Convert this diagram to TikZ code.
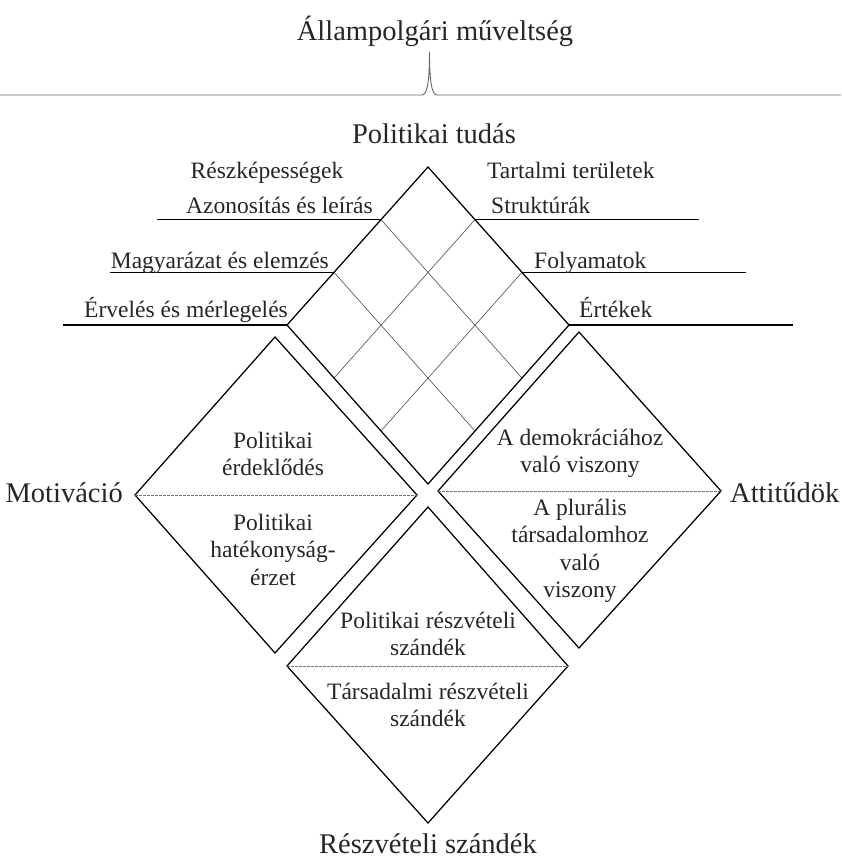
\documentclass[tikz,border=0pt]{standalone}
\usepackage{fontspec}
\setmainfont{Liberation Serif}
\usetikzlibrary{calc}
\newcommand{\mlines}[1]{\begin{tabular}[t]{@{}c@{}}#1\end{tabular}}
\tikzset{
  dia/.style={draw=black, line width=1.25pt, line join=miter},
  gridln/.style={draw=black!70, line width=0.6pt},
  sepln/.style={draw=black!55, dash pattern=on 2.5pt off 1.5pt, line width=0.8pt},
  labln/.style={draw=black, line width=1.1pt},
  bracel/.style={draw=black!60, line width=0.9pt},
  txt/.style={inner sep=0pt, text=black!85},
  small/.style={txt, font=\fontsize{23.5}{27.5}\selectfont},
  big/.style={txt, font=\fontsize{28.5}{33}\selectfont}
}
\begin{document}
\begin{tikzpicture}[x=1pt,y=-1pt]
\useasboundingbox (0,0) rectangle (841,862);
% title and brace
\node[big, anchor=base] (title) at (435,40) {Állampolgári műveltség};
\coordinate (bl) at (0,95);
\coordinate (br) at (841,95);
\coordinate (btip) at (429.5,52);
\draw[bracel] (bl) -- (422,95) .. controls (427.5,95) and (429.5,80) .. (btip)
  .. controls (429.5,80) and (431.5,95) .. (437,95) -- (br);
% top diamond
\coordinate (tT) at (428,167);
\coordinate (tL) at (287,325);
\coordinate (tR) at (569,325);
\coordinate (tB) at (428,484);
\foreach \k in {1,2} {
  \draw[gridln] ($(tT)!\k/3!(tL)$) -- ($(tR)!\k/3!(tB)$);
  \draw[gridln] ($(tT)!\k/3!(tR)$) -- ($(tL)!\k/3!(tB)$);
}
\draw[dia] (tT) -- (tR) -- (tB) -- (tL) -- cycle;
\node[big, anchor=base] (pt) at (434,143) {Politikai tudás};
% label lines
\coordinate (la) at ($(tT)!1/3!(tL)$);
\coordinate (lb) at ($(tT)!2/3!(tL)$);
\coordinate (ra) at ($(tT)!1/3!(tR)$);
\coordinate (rb) at ($(tT)!2/3!(tR)$);
\draw[labln] (la) -- ++(-224,0);
\draw[labln] (lb) -- ++(-224,0);
\draw[labln] (tL) -- ++(-224,0);
\draw[labln] (ra) -- ++(224,0);
\draw[labln] (rb) -- ++(224,0);
\draw[labln] (tR) -- ++(224,0);
\node[small, anchor=base] (resz) at (267,178) {Részképességek};
\node[small, anchor=base east] (azon) at (373,213) {Azonosítás és leírás};
\node[small, anchor=base east] (magy) at (329,268) {Magyarázat és elemzés};
\node[small, anchor=base east] (erv) at (288,317) {Érvelés és mérlegelés};
\node[small, anchor=base west] (tart) at (487,178) {Tartalmi területek};
\node[small, anchor=base west] (strk) at (491,213) {Struktúrák};
\node[small, anchor=base west] (foly) at (534,268) {Folyamatok};
\node[small, anchor=base west] (ertk) at (579,317) {Értékek};
% left diamond
\coordinate (mT) at (275,337);
\coordinate (mL) at (135,495);
\coordinate (mR) at (417,495);
\coordinate (mB) at (275,653);
\draw[dia] (mT) -- (mR) -- (mB) -- (mL) -- cycle;
\draw[sepln] (mL) -- (mR);
\node[big, anchor=base east] (motiv) at (123,502) {Motiváció};
\node[small, anchor=base] (m1) at (273,448) {\mlines{Politikai\\érdeklődés}};
\node[small, anchor=base] (m2) at (273,530) {\mlines{Politikai\\hatékonyság-\\érzet}};
% right diamond
\coordinate (aT) at (579,332);
\coordinate (aL) at (438,491);
\coordinate (aR) at (721,491);
\coordinate (aB) at (579,648);
\draw[dia] (aT) -- (aR) -- (aB) -- (aL) -- cycle;
\draw[sepln] (aL) -- (aR);
\node[big, anchor=base west] (attit) at (730,502) {Attitűdök};
\node[small, anchor=base] (a1) at (580,445) {\mlines{A demokráciához\\való viszony}};
\node[small, anchor=base] (a2) at (580,515) {\mlines{A plurális\\társadalomhoz\\való\\viszony}};
% bottom diamond
\coordinate (sT) at (428,507);
\coordinate (sL) at (287,666);
\coordinate (sR) at (568,666);
\coordinate (sB) at (428,823);
\draw[dia] (sT) -- (sR) -- (sB) -- (sL) -- cycle;
\draw[sepln] (sL) -- (sR);
\node[big, anchor=base] (reszv) at (428,853) {Részvételi szándék};
\node[small, anchor=base] (s1) at (428,628) {\mlines{Politikai részvételi\\szándék}};
\node[small, anchor=base] (s2) at (428,699) {\mlines{Társadalmi részvételi\\szándék}};
\end{tikzpicture}
\end{document}
